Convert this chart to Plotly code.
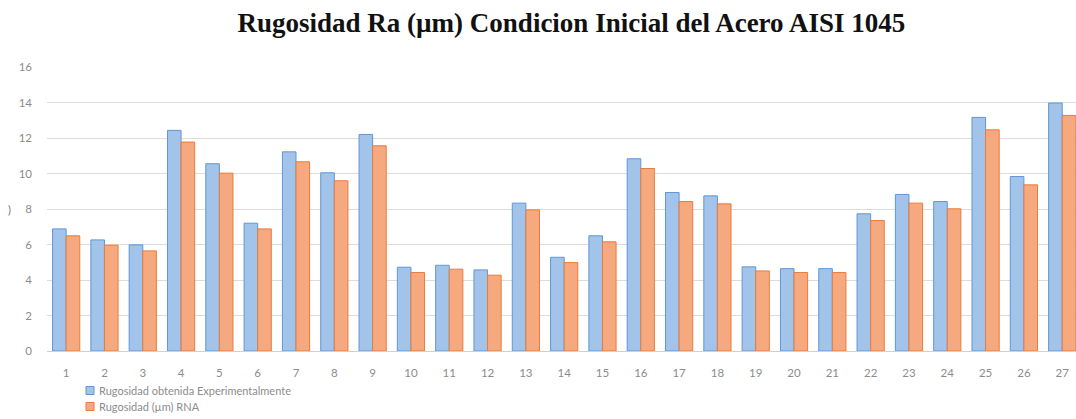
import plotly.graph_objects as go

# Ensayos (probetas) 1..27
ensayos = list(range(1, 28))

# Rugosidad Ra (µm) medida experimentalmente
ra_experimental = [6.88, 6.26, 5.98, 12.43, 10.55, 7.20, 11.22, 10.04, 12.20,
                   4.72, 4.83, 4.57, 8.33, 5.28, 6.49, 10.83, 8.93, 8.74,
                   4.74, 4.64, 4.64, 7.73, 8.82, 8.42, 13.16, 9.83, 13.97]

# Rugosidad Ra (µm) estimada por la red neuronal (RNA)
ra_rna = [6.49, 5.96, 5.64, 11.77, 10.02, 6.88, 10.66, 9.59, 11.56,
          4.42, 4.61, 4.27, 7.95, 4.98, 6.15, 10.28, 8.42, 8.29,
          4.51, 4.42, 4.42, 7.35, 8.33, 8.01, 12.46, 9.36, 13.27]

series_names = ["Rugosidad obtenida Experimentalmente", "Rugosidad (µm) RNA"]
fill_colors = ["#a2c3ea", "#f6a97e"]
edge_colors = ["#5f97d6", "#ea7b3a"]

y_ticks = [0, 2, 4, 6, 8, 10, 12, 14, 16]

label_color = "#8c8c8c"
tick_font = dict(family="Lato, 'Open Sans', sans-serif", size=11.5, color=label_color)
legend_font = dict(family="Lato, 'Open Sans', sans-serif", size=11, color=label_color)

fig = go.Figure()
for name, values, fill, edge in zip(series_names, [ra_experimental, ra_rna],
                                    fill_colors, edge_colors):
    fig.add_trace(go.Bar(
        x=ensayos, y=values, name=name,
        marker=dict(color=fill, line=dict(color=edge, width=1)),
    ))

fig.update_layout(
    width=1076, height=419,
    margin=dict(l=47, r=0, t=67, b=68, autoexpand=False),
    paper_bgcolor="white", plot_bgcolor="white",
    barmode="group", bargap=0.29, bargroupgap=0,
    showlegend=False,
    title=dict(
        text="<b>Rugosidad Ra (µm) Condicion Inicial del Acero AISI 1045</b>",
        font=dict(family="'Liberation Serif', 'Times New Roman', serif", size=27, color="#111111"),
        xref="container", yref="container", x=0.531, y=0.947,
        xanchor="center", yanchor="middle",
    ),
    xaxis=dict(
        range=[0.5, 27.36], tickmode="array", tickvals=ensayos,
        ticktext=[str(v) for v in ensayos],
        showgrid=False, zeroline=False, showline=False, ticks="",
        tickfont=tick_font, ticklabelstandoff=13, fixedrange=True,
    ),
    yaxis=dict(
        range=[0, 16], tickmode="array", tickvals=y_ticks,
        showgrid=True, gridcolor="#dcdcdc", gridwidth=1,
        zeroline=True, zerolinecolor="#d0d0d0", zerolinewidth=1,
        showline=False, ticks="", tickfont=tick_font,
        ticklabelstandoff=14, fixedrange=True,
    ),
)

# Leyenda compacta bajo el eje X: cuadro de color + texto
legend_rows = [(-0.1250, -0.1532, -0.1391), (-0.1813, -0.2095, -0.1954)]
for (top, bottom, mid), name, fill, edge in zip(legend_rows, series_names,
                                                fill_colors, edge_colors):
    fig.add_shape(
        type="rect", xref="paper", yref="paper",
        x0=0.0379, x1=0.0457, y0=bottom, y1=top,
        fillcolor=fill, line=dict(color=edge, width=1),
    )
    fig.add_annotation(
        text=name, xref="paper", yref="paper", x=0.0496, y=mid,
        xanchor="left", yanchor="middle", showarrow=False,
        font=legend_font, borderpad=0,
    )

# Borde recortado del título del eje Y
fig.add_annotation(
    text=")", xref="paper", yref="paper", x=-0.036, y=0.50,
    xanchor="center", yanchor="middle", showarrow=False,
    font=dict(family="Lato, sans-serif", size=11, color="#777777"),
)

fig.write_html("out.html")
